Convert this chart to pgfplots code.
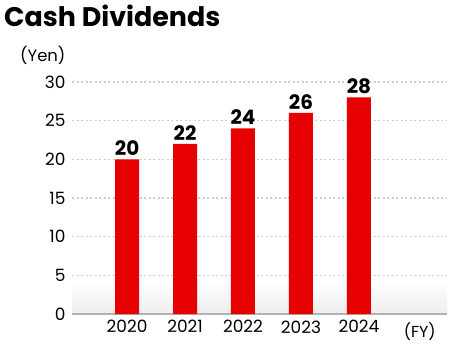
\documentclass[border=0pt]{standalone}
\usepackage{pgfplots}
\pgfplotsset{compat=1.18}
\usepackage{fontspec}
\setmainfont{Poppins}
\definecolor{barred}{RGB}{230,0,0}
\definecolor{gridc}{RGB}{205,205,205}
\begin{document}
\begin{tikzpicture}[x=1bp,y=1bp]
\useasboundingbox (0,0) rectangle (450,344);
\node[anchor=base west,font=\bfseries\fontsize{27}{30}\selectfont,inner sep=0] at (4,318) {Cash Dividends};
\node[anchor=base west,font=\fontsize{16.5}{18}\selectfont,inner sep=0] at (20,283) {(Yen)};
\begin{axis}[
  at={(72bp,30bp)}, anchor=south west,
  scale only axis, width=375bp, height=232bp,
  xmin=-0.95, xmax=5.52, ymin=0, ymax=30,
  axis line style={draw=none},
  major tick length=0pt,
  clip=false,
  ybar, bar width=24bp,
  xtick={0,1,2,3,4},
  xticklabels={2020,2021,2022,2023,2024},
  ytick={0,5,...,30},
  ymajorgrids,
  grid style={gridc, line width=1.6bp, dash pattern=on 2bp off 2.5bp},
  /pgf/number format/assume math mode=true,
  tick label style={font=\fontsize{17}{18}\selectfont},
  yticklabel style={xshift=-3bp},
  xticklabel style={yshift=-3bp},
  nodes near coords,
  every node near coord/.append style={font=\bfseries\fontsize{20}{22}\selectfont, yshift=0bp},
]
\fill[top color=white, bottom color=gray!14, draw=none] (axis cs:-0.95,0) rectangle (axis cs:5.52,4.5);
\draw[gray!60, line width=2bp] (axis cs:-0.95,0) -- (axis cs:5.52,0);
\node[anchor=north, font=\fontsize{16}{18}\selectfont, inner sep=0] at ([yshift=-8bp]axis cs:5.05,0) {(FY)};
\addplot[fill=barred, draw=none] coordinates {(0,20) (1,22) (2,24) (3,26) (4,28)};
\end{axis}
\end{tikzpicture}
\end{document}
